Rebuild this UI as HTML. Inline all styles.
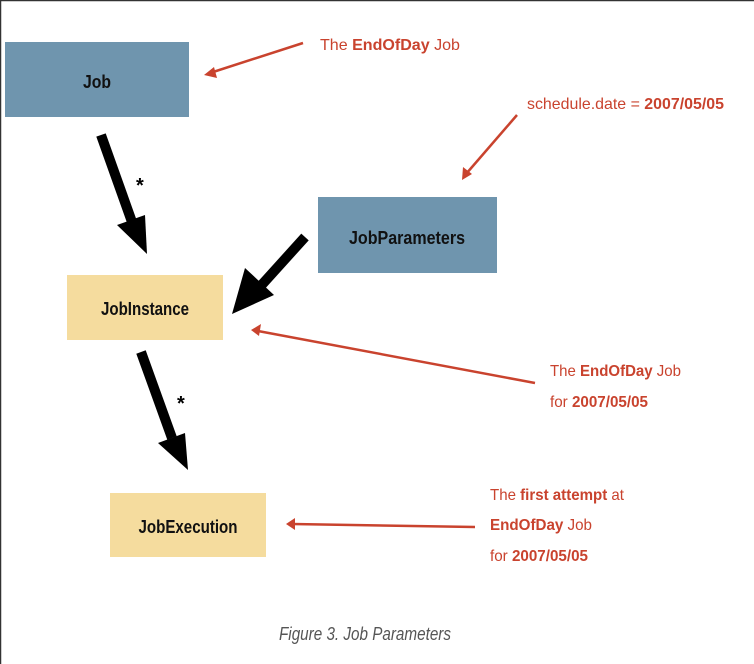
<!DOCTYPE html>
<html><head><meta charset="utf-8"><style>
html,body{margin:0;padding:0;background:#fff;}
svg{display:block;}
text{font-family:"Liberation Sans",sans-serif;}
</style></head><body>
<svg width="754" height="664" viewBox="0 0 754 664" xmlns="http://www.w3.org/2000/svg">
<rect x="0" y="0" width="754" height="664" fill="#fff"/>
<line x1="0" y1="0.5" x2="754" y2="0.5" stroke="#333" stroke-width="1.5"/>
<line x1="0.5" y1="0" x2="0.5" y2="664" stroke="#333" stroke-width="1.5"/>

<rect x="5" y="42" width="184" height="75" fill="#6f95ae"/>
<rect x="318" y="197" width="179" height="76" fill="#6f95ae"/>
<rect x="67" y="275" width="156" height="65" fill="#f5dc9e"/>
<rect x="110" y="493" width="156" height="64" fill="#f5dc9e"/>

<g font-size="18" font-weight="bold" fill="#111" text-anchor="middle">
<text x="97" y="88" textLength="28" lengthAdjust="spacingAndGlyphs">Job</text>
<text x="407" y="244" textLength="116" lengthAdjust="spacingAndGlyphs">JobParameters</text>
<text x="145" y="315" textLength="88" lengthAdjust="spacingAndGlyphs">JobInstance</text>
<text x="188" y="533" textLength="99" lengthAdjust="spacingAndGlyphs">JobExecution</text>
</g>

<g stroke="#000" stroke-width="10" fill="none">
<line x1="101" y1="135" x2="132" y2="222"/>
<line x1="305" y1="237" x2="258" y2="289"/>
<line x1="141" y1="352" x2="172" y2="438"/>
</g>
<g fill="#000">
<polygon points="117,225 145,215 147,254"/>
<polygon points="245,268 274,295 232,314"/>
<polygon points="158,443 185,433 188,470"/>
</g>
<g font-size="20" font-weight="bold" fill="#000">
<text x="136" y="192">*</text>
<text x="177" y="410">*</text>
</g>

<g stroke="#c9432e" stroke-width="2.5" fill="none">
<line x1="303" y1="43" x2="210" y2="73"/>
<line x1="517" y1="115" x2="466" y2="174"/>
<line x1="535" y1="383" x2="258" y2="331"/>
<line x1="475" y1="527" x2="292" y2="524"/>
</g>
<g fill="#c9432e">
<polygon points="204,75 214,67 217,78"/>
<polygon points="462,180 463,167 472,174"/>
<polygon points="251,330 261,324 259,336"/>
<polygon points="286,524 295,518 295,530"/>
</g>

<g font-size="16" fill="#c9432e">
<text x="320" y="50" textLength="140" lengthAdjust="spacingAndGlyphs">The <tspan font-weight="bold">EndOfDay</tspan> Job</text>
<text x="527" y="109" textLength="197" lengthAdjust="spacingAndGlyphs">schedule.date = <tspan font-weight="bold">2007/05/05</tspan></text>
<text x="550" y="376" textLength="131" lengthAdjust="spacingAndGlyphs">The <tspan font-weight="bold">EndOfDay</tspan> Job</text>
<text x="550" y="407" textLength="98" lengthAdjust="spacingAndGlyphs">for <tspan font-weight="bold">2007/05/05</tspan></text>
<text x="490" y="500" textLength="134" lengthAdjust="spacingAndGlyphs">The <tspan font-weight="bold">first attempt</tspan> at</text>
<text x="490" y="530" textLength="102" lengthAdjust="spacingAndGlyphs"><tspan font-weight="bold">EndOfDay</tspan> Job</text>
<text x="490" y="561" textLength="98" lengthAdjust="spacingAndGlyphs">for <tspan font-weight="bold">2007/05/05</tspan></text>
</g>

<text x="365" y="640" font-size="18" font-style="italic" fill="#555" text-anchor="middle" textLength="172" lengthAdjust="spacingAndGlyphs">Figure 3. Job Parameters</text>
</svg>
</body></html>
